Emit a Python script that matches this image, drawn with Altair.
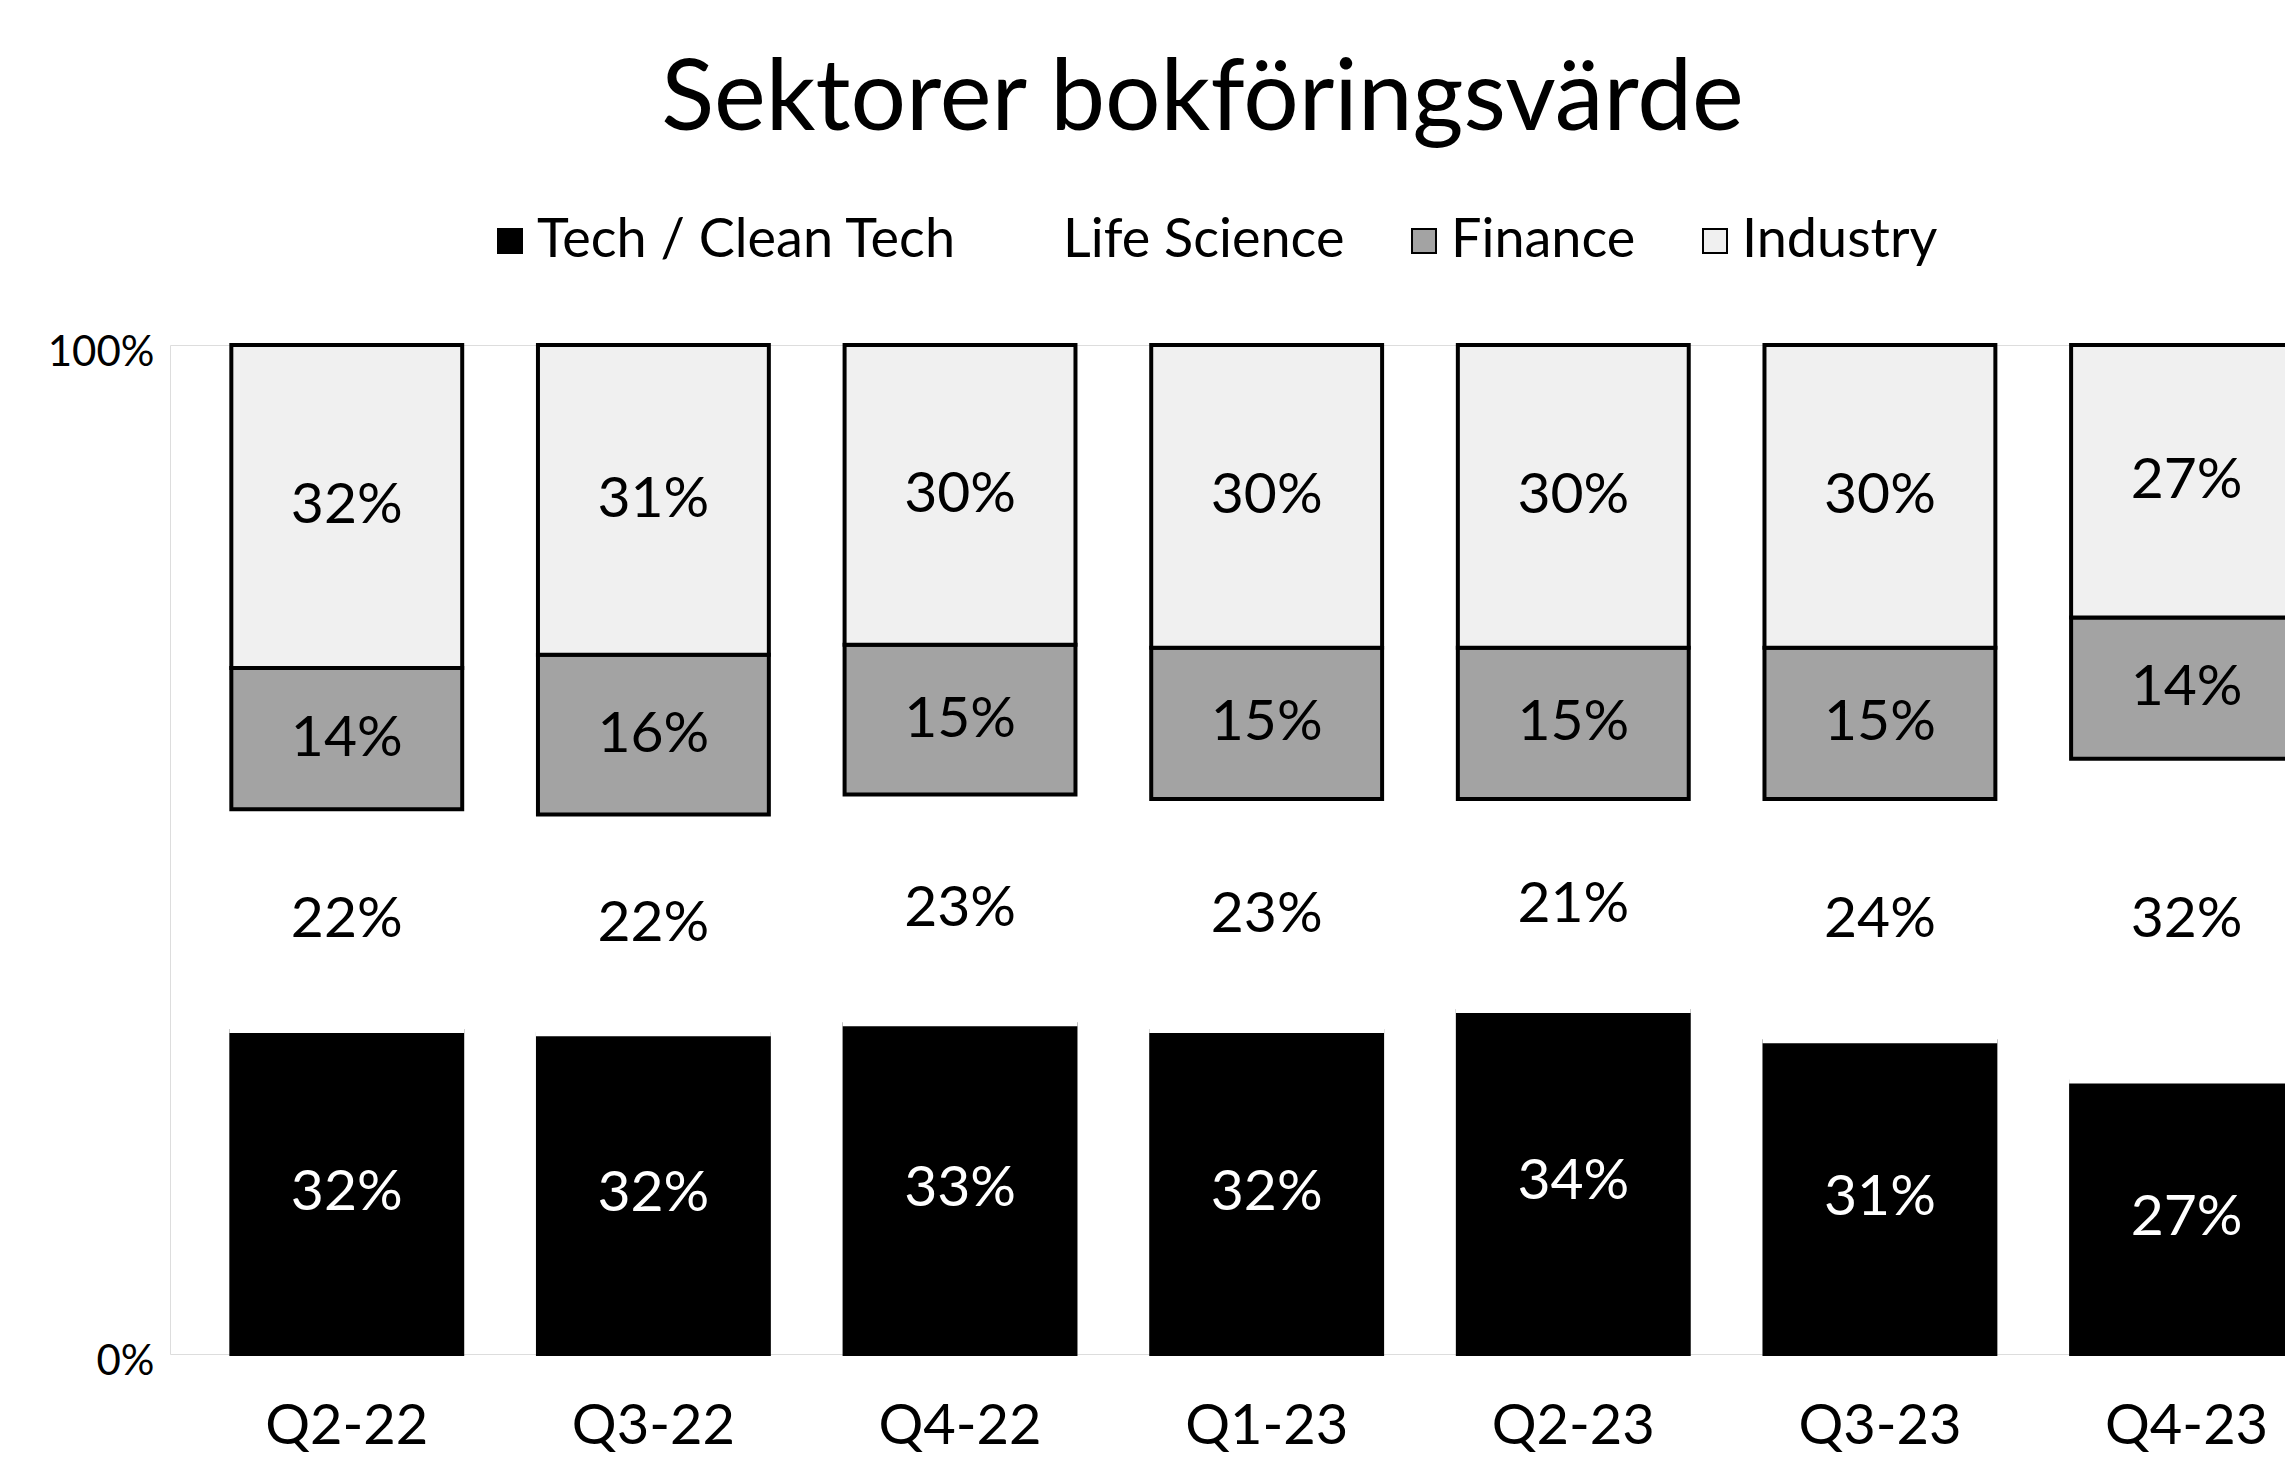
import altair as alt
import pandas as pd

quarters = ["Q2-22", "Q3-22", "Q4-22", "Q1-23", "Q2-23", "Q3-23", "Q4-23"]
sectors = ["Tech / Clean Tech", "Life Science", "Finance", "Industry"]
tech = [32, 32, 33, 32, 34, 31, 27]
life = [22, 22, 23, 23, 21, 24, 32]
finance = [14, 16, 15, 15, 15, 15, 14]
industry = [32, 31, 30, 30, 30, 30, 27]

fills = ["#000000", "#ffffff", "#a3a3a3", "#f0f0f0"]
strokes = ["#000000", "#ffffff", "#000000", "#000000"]

series = [tech, life, finance, industry]
rows = []
for i, q in enumerate(quarters):
    for j, s in enumerate(sectors):
        v = series[j][i]
        rows.append({"quarter": q, "sector": s, "order": j, "value": v, "label": f"{v}%"})
df = pd.DataFrame(rows)

FONT = "Lato"

base = alt.Chart(df).transform_stack(
    as_=["v0", "v1"], stack="value", groupby=["quarter"], offset="normalize",
    sort=[alt.SortField("order", order="ascending")]
).transform_calculate(mid="(datum.v0 + datum.v1) / 2")

x_enc = alt.X(
    "quarter:N", sort=quarters, title=None,
    scale=alt.Scale(paddingInner=0.247, paddingOuter=0.1, align=1, range=[0, 2132]),
    axis=alt.Axis(domain=False, ticks=False, labelFont=FONT, labelFontSize=56,
                  labelPadding=45, labelColor="black", labelAngle=0),
)

leg = alt.Legend(
    title=None, orient="none", legendX=313, legendY=-131, direction="horizontal",
    columns=4, columnPadding=52, symbolType="square", symbolSize=576,
    symbolStrokeWidth=2, labelFont=FONT, labelFontSize=54, labelOffset=0,
    labelColor="black", labelLimit=800, padding=0,
)

bars = base.mark_bar(strokeWidth=4).encode(
    x=x_enc,
    y=alt.Y("v0:Q", scale=alt.Scale(domain=[0, 1]),
            axis=alt.Axis(values=[0, 1], format=".0%", domain=False, ticks=False,
                          grid=False, labelFont=FONT, labelFontSize=42,
                          labelPadding=16, labelFlush=False, title=None,
                          labelOffset=7, labelColor="black")),
    y2="v1:Q",
    fill=alt.Fill("sector:N", sort=sectors,
                  scale=alt.Scale(domain=sectors, range=fills), legend=leg),
    stroke=alt.Stroke("sector:N", sort=sectors,
                      scale=alt.Scale(domain=sectors, range=strokes), legend=leg),
    order=alt.Order("order:Q"),
)

labels = base.mark_text(font=FONT, fontSize=57).encode(
    x=x_enc,
    y=alt.Y("mid:Q"),
    text="label:N",
    color=alt.condition(alt.datum.sector == "Tech / Clean Tech",
                        alt.value("white"), alt.value("black")),
)

chart = alt.layer(bars, labels).properties(
    width=2115, height=1009,
    title=alt.TitleParams("Sektorer bokföringsvärde", font=FONT, fontSize=98,
                          fontWeight="normal", anchor="middle", frame="group",
                          dx=-25, dy=-59, color="black"),
    autosize=alt.AutoSizeParams(type="none"),
    padding={"left": 162, "top": 337, "right": 0, "bottom": 104},
).configure_view(stroke=None).configure(background="white")

chart.save("out.html", embed_options={"renderer": "svg", "actions": False})
